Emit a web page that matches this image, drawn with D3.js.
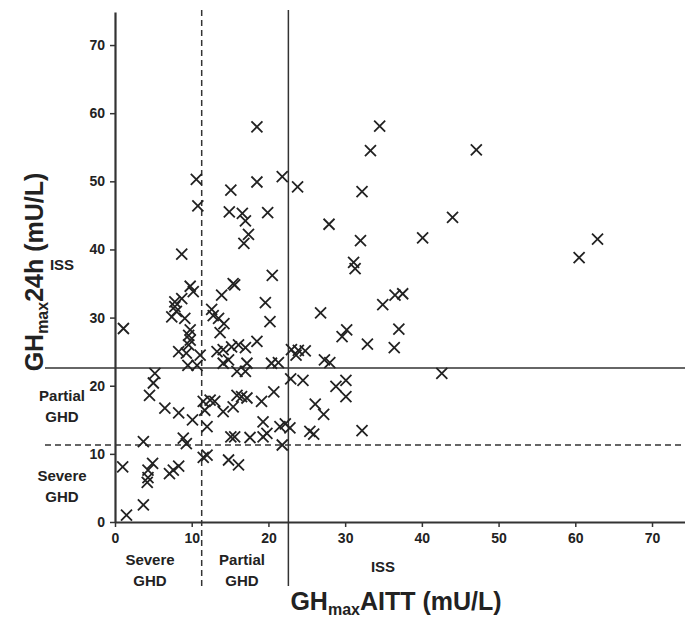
<!DOCTYPE html>
<html>
<head>
<meta charset="utf-8">
<script src="https://cdn.jsdelivr.net/npm/d3@7"></script>
<style>
  body { margin: 0; background: white; }
  text { font-family: Arial, "Liberation Sans", sans-serif; fill: #222; font-weight: bold; }
</style>
</head>
<body>
<div id="viz-container"></div>
<script>
// GHmax AITT (x) vs GHmax 24h (y), mU/L
let xVals = [18.5,34.5,33.3,47.1,21.8,23.8,32.2,10.6,10.8,15.1,18.5,14.9,16.6,17.0,19.9,17.4,16.8,27.9,44.0,40.1,
  32.0,31.1,31.3,62.9,60.5,8.7,20.5,15.4,15.6,13.9,19.6,20.2,1.1,9.8,10.2,8.7,7.8,7.8,8.0,7.4,
  9.1,9.8,9.6,9.8,12.6,12.8,13.5,14.2,13.7,18.5,26.8,34.9,36.5,37.5,37.0,30.2,29.6,32.9,36.4,23.0,
  23.9,24.8,23.6,27.3,28.0,42.6,22.9,24.5,30.1,28.8,30.1,26.1,27.2,21.5,22.2,22.8,25.4,25.9,32.2,21.8,
  13.3,14.1,15.2,16.1,17.0,14.1,14.8,15.9,17.2,17.0,20.4,21.3,8.3,9.6,9.3,11.1,9.5,10.7,5.2,5.0,
  4.5,6.5,8.3,10.1,11.5,12.4,13.0,11.7,12.0,14.1,15.4,15.9,16.5,17.2,19.1,20.7,19.3,3.7,8.9,9.3,
  15.1,15.6,17.6,19.3,19.8,1.0,4.9,4.3,4.3,4.2,7.1,7.6,8.3,11.5,12.0,14.8,16.1,3.7,1.5];
let yVals = [58.0,58.1,54.5,54.6,50.7,49.2,48.5,50.3,46.4,48.7,49.9,45.5,45.3,44.2,45.4,42.2,40.9,43.7,44.7,41.7,
  41.3,38.1,37.2,41.5,38.8,39.3,36.2,35.0,34.8,33.3,32.2,29.4,28.4,34.6,33.8,32.8,32.3,31.6,30.9,30.1,
  29.9,28.2,27.4,26.7,31.2,30.3,29.9,29.1,27.8,26.5,30.7,31.9,33.3,33.5,28.3,28.2,27.2,26.1,25.6,25.3,
  25.2,25.1,24.5,23.8,23.4,21.8,21.0,20.8,20.8,19.9,18.4,17.3,15.8,14.0,14.4,13.8,13.3,12.9,13.4,11.3,
  25.0,25.3,25.7,26.0,25.6,23.3,23.8,22.1,23.3,22.1,23.3,23.4,25.0,26.0,24.8,24.5,23.0,23.0,21.8,20.4,
  18.6,16.7,16.0,15.0,17.7,17.9,17.7,16.4,14.0,16.2,16.9,18.6,18.4,18.2,17.7,19.1,14.7,11.8,12.3,11.5,
  12.5,12.5,12.4,12.5,13.0,8.1,8.6,7.6,6.5,5.8,7.1,7.6,8.2,9.5,9.8,9.1,8.4,2.5,1.0];
let ticks = [0,10,20,30,40,50,60,70];
let cutSevere = 11.3;
let cutPartial = 22.6;

let w = 685;
let h = 619;
let viz = d3.select("#viz-container")
    .append("svg")
    .attr("width", w)
    .attr("height", h)
;

let xScale = d3.scaleLinear().domain([0, 74.3]).range([115, 685]);
let yScale = d3.scaleLinear().domain([0, 74.85]).range([522, 12]);

// cutoff lines
let lineCol = "#333";
viz.append("line")
    .attr("x1", 45).attr("x2", w)
    .attr("y1", yScale(cutPartial)).attr("y2", yScale(cutPartial))
    .attr("stroke", lineCol).attr("stroke-width", 1.5);
viz.append("line")
    .attr("x1", 45).attr("x2", w)
    .attr("y1", yScale(cutSevere)).attr("y2", yScale(cutSevere))
    .attr("stroke", lineCol).attr("stroke-width", 1.5)
    .attr("stroke-dasharray", "6,4");
viz.append("line")
    .attr("x1", xScale(cutPartial)).attr("x2", xScale(cutPartial))
    .attr("y1", 10).attr("y2", 586)
    .attr("stroke", lineCol).attr("stroke-width", 1.5);
viz.append("line")
    .attr("x1", xScale(cutSevere)).attr("x2", xScale(cutSevere))
    .attr("y1", 10).attr("y2", 586)
    .attr("stroke", lineCol).attr("stroke-width", 1.5)
    .attr("stroke-dasharray", "6,4");

// axes
let xAxis = d3.axisBottom(xScale).tickValues(ticks).tickSize(5).tickPadding(6).tickSizeOuter(0);
let xAxisGroup = viz.append("g").attr("class", "xAxis")
    .attr("transform", "translate(0," + yScale(0) + ")")
    .call(xAxis);
let yAxis = d3.axisLeft(yScale).tickValues(ticks).tickSize(5).tickPadding(5).tickSizeOuter(0);
let yAxisGroup = viz.append("g").attr("class", "yAxis")
    .attr("transform", "translate(" + xScale(0) + ",0)")
    .call(yAxis);
viz.selectAll(".domain").attr("stroke", "#333").attr("stroke-width", 2.2);
viz.selectAll(".tick line").attr("stroke", "#333").attr("stroke-width", 1.5);
viz.selectAll(".tick text")
    .style("font-size", "14px")
    .style("font-weight", "bold")
    .attr("fill", "#222")
    .style("font-family", "Arial, 'Liberation Sans', sans-serif");

// points as x marks
let pts = xVals.map((v, i) => ({x: v, y: yVals[i]}));
viz.selectAll(".datapoint").data(pts).enter()
    .append("path")
    .attr("class", "datapoint")
    .attr("d", "M-5.5,-5.5L5.5,5.5M-5.5,5.5L5.5,-5.5")
    .attr("transform", d => "translate(" + xScale(d.x) + "," + yScale(d.y) + ")")
    .attr("stroke", "#222")
    .attr("stroke-width", 1.8)
    .attr("fill", "none")
;

// region labels
function label(txt, x, y){
    viz.append("text")
        .attr("x", x).attr("y", y)
        .attr("text-anchor", "middle")
        .style("font-size", "15px")
        .text(txt);
}
label("ISS", 62, 270);
label("Partial", 62, 401);
label("GHD", 62, 422);
label("Severe", 62, 481);
label("GHD", 62, 502);
label("Severe", 150, 565);
label("GHD", 150, 586);
label("Partial", 242, 565);
label("GHD", 242, 586);
label("ISS", 383, 572);

// axis titles
let xTitle = viz.append("text")
    .attr("x", 396).attr("y", 610)
    .attr("text-anchor", "middle")
    .style("font-size", "25px");
xTitle.append("tspan").text("GH");
xTitle.append("tspan").text("max").attr("dy", 5).style("font-size", "16px");
xTitle.append("tspan").text("AITT (mU/L)").attr("dy", -5);

let yTitle = viz.append("text")
    .attr("transform", "translate(43,272) rotate(-90)")
    .attr("text-anchor", "middle")
    .style("font-size", "25px");
yTitle.append("tspan").text("GH");
yTitle.append("tspan").text("max").attr("dy", 5).style("font-size", "16px");
yTitle.append("tspan").text("24h (mU/L)").attr("dy", -5);
</script>
</body>
</html>
